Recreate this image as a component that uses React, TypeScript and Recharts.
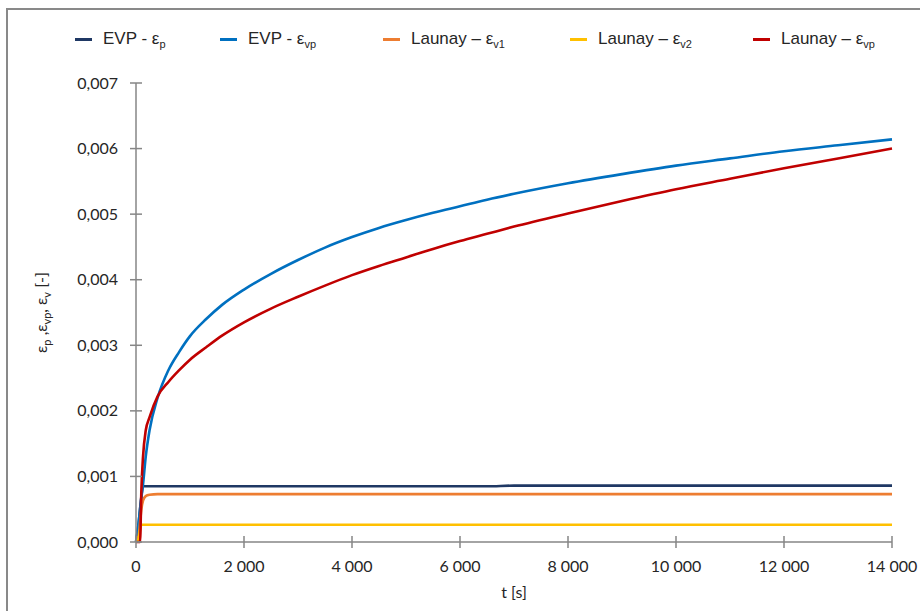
import React from "react";
import { LineChart, Line, XAxis, YAxis, Label } from "recharts";

// time axis [s] and strain series
const timeS = [0, 50, 75, 100, 130, 180, 250, 400, 600, 800, 1000, 1300, 1600, 2000, 2500, 3000, 3500, 4000, 4500, 5000, 5500, 6000, 6500, 7000, 8000, 9000, 10000, 11000, 12000, 13000, 14000];

const evpP = [0, 0.0003, 0.0005, 0.0007, 0.00085, 0.00085, 0.00085, 0.00085, 0.00085, 0.00085, 0.00085, 0.00085, 0.00085, 0.00085, 0.00085, 0.00085, 0.00085, 0.00085, 0.00085, 0.00085, 0.00085, 0.00085, 0.00085, 0.00086, 0.00086, 0.00086, 0.00086, 0.00086, 0.00086, 0.00086, 0.00086];
const evpVp = [0, 0.0003, 0.0005, 0.00068, 0.00088, 0.0013, 0.0017, 0.0022, 0.00262, 0.0029, 0.00314, 0.0034, 0.00362, 0.00385, 0.00409, 0.0043, 0.00449, 0.00465, 0.00479, 0.00491, 0.00502, 0.00512, 0.00522, 0.00531, 0.00547, 0.00561, 0.00574, 0.00585, 0.00596, 0.00605, 0.00614];
const launayV1 = [0, 0.0001, 0.0003, 0.0005, 0.00063, 0.0007, 0.00072, 0.00073, 0.00073, 0.00073, 0.00073, 0.00073, 0.00073, 0.00073, 0.00073, 0.00073, 0.00073, 0.00073, 0.00073, 0.00073, 0.00073, 0.00073, 0.00073, 0.00073, 0.00073, 0.00073, 0.00073, 0.00073, 0.00073, 0.00073, 0.00073];
const launayV2 = [0, 0.00005, 0.00018, 0.000264, 0.000264, 0.000264, 0.000264, 0.000264, 0.000264, 0.000264, 0.000264, 0.000264, 0.000264, 0.000264, 0.000264, 0.000264, 0.000264, 0.000264, 0.000264, 0.000264, 0.000264, 0.000264, 0.000264, 0.000264, 0.000264, 0.000264, 0.000264, 0.000264, 0.000264, 0.000264, 0.000264];
const launayVp = [0, 0, 0, 0.0008, 0.0013, 0.0017, 0.0019, 0.00222, 0.00244, 0.00262, 0.00278, 0.00297, 0.00315, 0.00335, 0.00356, 0.00374, 0.00391, 0.00407, 0.00421, 0.00434, 0.00447, 0.00459, 0.0047, 0.00481, 0.00501, 0.0052, 0.00538, 0.00554, 0.0057, 0.00585, 0.006];

const xTicks = [0, 2000, 4000, 6000, 8000, 10000, 12000, 14000];
const yTicks = [0, 0.001, 0.002, 0.003, 0.004, 0.005, 0.006, 0.007];

const series = [
  { key: "evpP", name: "EVP - ε", sub: "p", color: "#1f3864", values: evpP },
  { key: "evpVp", name: "EVP - ε", sub: "vp", color: "#0070c0", values: evpVp },
  { key: "launayV1", name: "Launay – ε", sub: "v1", color: "#ed7d31", values: launayV1 },
  { key: "launayV2", name: "Launay – ε", sub: "v2", color: "#ffc000", values: launayV2 },
  { key: "launayVp", name: "Launay – ε", sub: "vp", color: "#c00000", values: launayVp },
];

const data = timeS.map((t, i) => {
  const row: Record<string, number> = { t };
  series.forEach((s) => (row[s.key] = s.values[i]));
  return row;
});

const AXIS = "#868686";
const TEXT = "#262626";
const FONT = "Lato, 'Open Sans', sans-serif";
const TICK_SIZE = 6;
const TICK_MARGIN = 12;
const legendWidths = [145, 163, 187, 183, 160];

const fmtX = (v: number) => String(v).replace(/\B(?=(\d{3})+(?!\d))/g, " ");
const fmtY = (v: number) => v.toFixed(3).replace(".", ",");

const YTick = (props: any) => {
  const { x, y, payload } = props;
  const axisX = x + TICK_SIZE + TICK_MARGIN;
  return (
    <g>
      <line x1={axisX - 6} x2={axisX + 6} y1={y} y2={y} stroke={AXIS} strokeWidth={1.5} />
      <text x={x} y={y} dy="0.35em" textAnchor="end" fill={TEXT} fontSize={16} fontFamily={FONT}>
        {fmtY(payload.value)}
      </text>
    </g>
  );
};

const XTick = (props: any) => {
  const { x, y, payload } = props;
  const axisY = y - TICK_SIZE - TICK_MARGIN;
  return (
    <g>
      <line x1={x} x2={x} y1={axisY - 6} y2={axisY + 6} stroke={AXIS} strokeWidth={1.5} />
      <text x={x} y={y} dy="0.75em" textAnchor="middle" fill={TEXT} fontSize={16} fontFamily={FONT}>
        {fmtX(payload.value)}
      </text>
    </g>
  );
};

const YTitle = (props: any) => {
  const vb = props.viewBox;
  const cx = 41;
  const cy = vb.y + vb.height / 2;
  return (
    <text x={cx} y={cy} transform={`rotate(-90 ${cx} ${cy})`} textAnchor="middle" dy="0.35em" fill={TEXT} fontSize={16} fontFamily={FONT}>
      ε<tspan fontSize={11} dy={4}>p</tspan>
      <tspan dy={-4}> ,ε</tspan>
      <tspan fontSize={11} dy={4}>vp</tspan>
      <tspan dy={-4}>, ε</tspan>
      <tspan fontSize={11} dy={4}>v</tspan>
      <tspan dy={-4}> [-]</tspan>
    </text>
  );
};

const XTitle = (props: any) => {
  const vb = props.viewBox;
  return (
    <text x={vb.x + vb.width / 2} y={vb.y + 56} textAnchor="middle" fill={TEXT} fontSize={16} fontFamily={FONT}>
      t [s]
    </text>
  );
};

const LegendBox = () => (
  <div style={{ position: "absolute", top: 29, left: 75, display: "flex", alignItems: "center", fontFamily: "'Liberation Sans', Arial, sans-serif", fontSize: 17, color: TEXT }}>
    {series.map((s, i) => (
      <div key={s.key} style={{ display: "flex", alignItems: "center", width: legendWidths[i] }}>
        <span style={{ display: "inline-block", width: 17, height: 3, background: s.color, marginRight: 11 }} />
        <span style={{ whiteSpace: "nowrap" }}>
          {s.name}
          <sub style={{ fontSize: 11, verticalAlign: -4 }}>{s.sub}</sub>
        </span>
      </div>
    ))}
  </div>
);

export default function App() {
  return (
    <div style={{ position: "absolute", top: 0, left: 0, width: 920, height: 611, overflow: "hidden", background: "#fff" }}>
      <div style={{ position: "absolute", left: 6, top: 8, width: 1000, height: 800, border: "2px solid #898989" }} />
      <LegendBox />
      <div style={{ position: "absolute", top: 0, left: 0 }}>
        <LineChart width={920} height={611} data={data} margin={{ top: 83, right: 28, bottom: 29, left: 0 }}>
          <XAxis
            type="number"
            dataKey="t"
            domain={[0, 14000]}
            ticks={xTicks}
            height={40}
            stroke={AXIS}
            strokeWidth={1.5}
            tickLine={false}
            tickSize={TICK_SIZE}
            tickMargin={TICK_MARGIN}
            tick={<XTick />}
            interval={0}
          >
            <Label content={<XTitle />} />
          </XAxis>
          <YAxis
            type="number"
            domain={[0, 0.007]}
            ticks={yTicks}
            width={136}
            stroke={AXIS}
            strokeWidth={1.5}
            tickLine={false}
            tickSize={TICK_SIZE}
            tickMargin={TICK_MARGIN}
            tick={<YTick />}
            interval={0}
          >
            <Label content={<YTitle />} />
          </YAxis>
          {series.map((s) => (
            <Line
              key={s.key}
              type="monotone"
              dataKey={s.key}
              name={s.key}
              stroke={s.color}
              strokeWidth={2.6}
              dot={false}
              isAnimationActive={false}
            />
          ))}
        </LineChart>
      </div>
    </div>
  );
}
